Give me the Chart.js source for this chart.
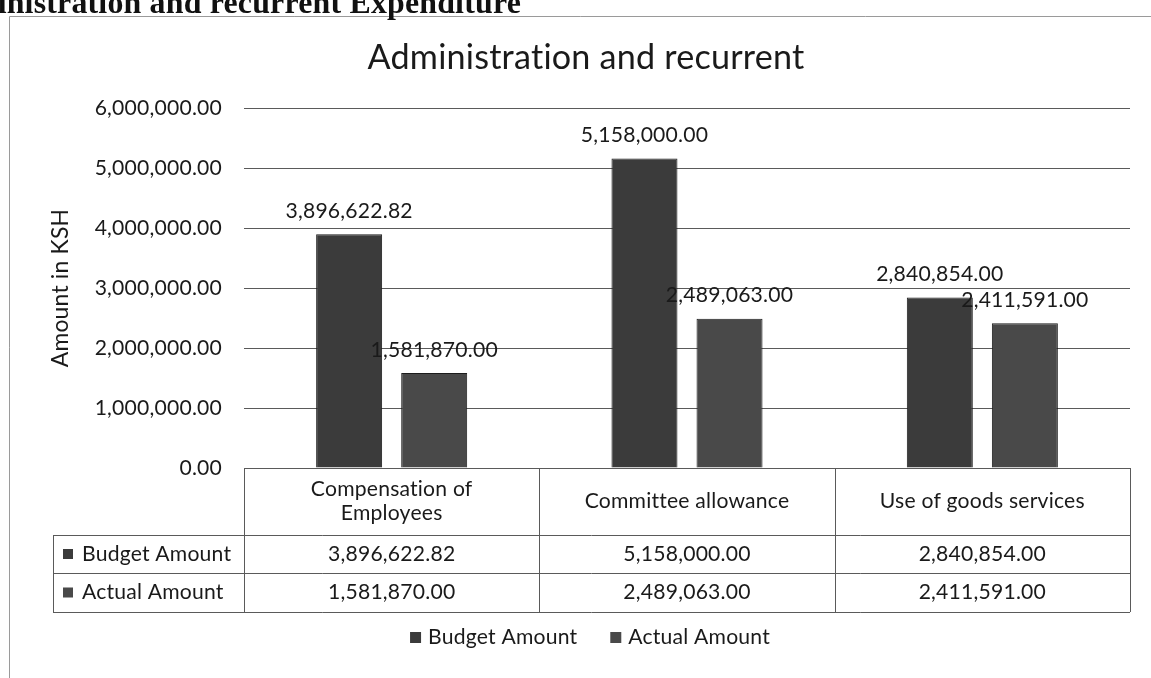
<!DOCTYPE html>
<html>
<head>
<meta charset="utf-8">
<title>Administration and recurrent</title>
<script src="https://cdn.jsdelivr.net/npm/chart.js@4.4.1/dist/chart.umd.min.js"></script>
<style>
  html, body { margin: 0; padding: 0; background: #fff; overflow: hidden; }
  #wrap { position: relative; width: 1151px; height: 678px; }
</style>
</head>
<body>
<div id="wrap"><canvas id="adminChart" width="1151" height="678"></canvas></div>
<script>
// data
var categories = ['Compensation of Employees', 'Committee allowance', 'Use of goods services'];
var budgetAmount = [3896622.82, 5158000.00, 2840854.00];
var actualAmount = [1581870.00, 2489063.00, 2411591.00];
var seriesNames = ['Budget Amount', 'Actual Amount'];
var yTicks = [0, 1000000, 2000000, 3000000, 4000000, 5000000, 6000000];

var FONT = 'Lato, "Open Sans", sans-serif';
var SERIF = '"Liberation Serif", "DejaVu Serif", serif';
var TEXT = '#1a1a1a';
var LINE = '#5a5a5a';
var barColors = ['#3b3b3b', '#494949'];

// size fonts so the texts get the widths they have in the picture
var mctx = document.createElement('canvas').getContext('2d');
function fitSize(text, width, family, weight) {
     mctx.font = (weight || 'normal') + ' 100px ' + family;
     return 100 * width / mctx.measureText(text).width;
}
var baseSize = fitSize('6,000,000.00', 125, FONT);
var titleSize = fitSize('Administration and recurrent', 432, FONT);
var axisTitleSize = fitSize('Amount in KSH', 156, FONT);
var headSize = fitSize('inistration and recurrent Expenditure', 516, SERIF, 'bold');

function fmt(v) {
     return v.toLocaleString('en-US', { minimumFractionDigits: 2, maximumFractionDigits: 2 });
}

function wrap(ctx, text, maxW) {
     var words = text.split(' '), lines = [], cur = '';
     words.forEach(function (w) {
          var t = cur ? cur + ' ' + w : w;
          if (cur && ctx.measureText(t).width > maxW) { lines.push(cur); cur = w; }
          else cur = t;
     });
     lines.push(cur);
     return lines;
}

var decor = {
     id: 'decor',
     beforeDraw: function (chart) {
          var ctx = chart.ctx;
          // a tiny letter spacing keeps Lato from joining "ti" / "tt"
          ctx.letterSpacing = '0.2px';
          ctx.save();
          ctx.fillStyle = '#fff';
          ctx.fillRect(0, 0, chart.width, chart.height);
          // chart frame
          ctx.strokeStyle = '#9a9a9a';
          ctx.lineWidth = 1;
          ctx.beginPath();
          ctx.moveTo(9.5, chart.height);
          ctx.lineTo(9.5, 16.5);
          ctx.lineTo(chart.width, 16.5);
          ctx.stroke();
          // page heading, cut by the scan
          ctx.fillStyle = '#111';
          ctx.font = 'bold ' + headSize + 'px ' + SERIF;
          ctx.textAlign = 'right';
          ctx.textBaseline = 'alphabetic';
          ctx.fillText('Administration and recurrent Expenditure', 521, 13);
          ctx.restore();
     }
};

var barLabels = {
     id: 'barLabels',
     afterDatasetsDraw: function (chart) {
          var ctx = chart.ctx;
          ctx.save();
          ctx.font = baseSize + 'px ' + FONT;
          ctx.fillStyle = TEXT;
          ctx.textAlign = 'center';
          ctx.textBaseline = 'middle';
          chart.data.datasets.forEach(function (ds, i) {
               chart.getDatasetMeta(i).data.forEach(function (bar, j) {
                    ctx.fillText(fmt(ds.data[j]), bar.x, bar.y - 23);
               });
          });
          ctx.restore();
     }
};

var dataTable = {
     id: 'dataTable',
     afterDraw: function (chart) {
          var ctx = chart.ctx;
          var area = chart.chartArea;
          var catW = (area.right - area.left) / categories.length;
          var top = area.bottom;
          var headBottom = top + 67;
          var row1 = headBottom + 38;
          var row2 = row1 + 39;
          var rowLeft = 53;
          var series = [budgetAmount, actualAmount];

          ctx.save();
          ctx.strokeStyle = LINE;
          ctx.lineWidth = 1;
          ctx.beginPath();
          [headBottom, row1, row2].forEach(function (y) {
               ctx.moveTo(rowLeft, Math.round(y) + 0.5);
               ctx.lineTo(area.right, Math.round(y) + 0.5);
          });
          for (var i = 0; i <= categories.length; i++) {
               var x = Math.round(area.left + i * catW) + 0.5;
               ctx.moveTo(x, top);
               ctx.lineTo(x, row2);
          }
          ctx.moveTo(rowLeft + 0.5, headBottom);
          ctx.lineTo(rowLeft + 0.5, row2);
          ctx.stroke();

          ctx.font = baseSize + 'px ' + FONT;
          ctx.fillStyle = TEXT;
          ctx.textBaseline = 'middle';
          ctx.textAlign = 'center';
          var lh = baseSize * 1.15;
          categories.forEach(function (c, i) {
               var cx = area.left + (i + 0.5) * catW;
               var lines = wrap(ctx, c, catW * 0.8);
               var y0 = (top + headBottom) / 2 - (lines.length - 1) * lh / 2;
               lines.forEach(function (l, k) { ctx.fillText(l, cx, y0 + k * lh); });
               series.forEach(function (s, r) {
                    var cy = r === 0 ? (headBottom + row1) / 2 : (row1 + row2) / 2;
                    ctx.fillText(fmt(s[i]), cx, cy);
               });
          });

          ctx.textAlign = 'left';
          seriesNames.forEach(function (name, r) {
               var cy = r === 0 ? (headBottom + row1) / 2 : (row1 + row2) / 2;
               ctx.fillStyle = barColors[r];
               ctx.fillRect(63, cy - 5, 10, 10);
               ctx.fillStyle = TEXT;
               ctx.fillText(name, 82, cy);
          });

          // legend under the table
          var gap = 7, box = 11, spacing = 33;
          var widths = seriesNames.map(function (n) { return box + gap + ctx.measureText(n).width; });
          var total = widths[0] + spacing + widths[1];
          var lx = 590 - total / 2, ly = 637;
          seriesNames.forEach(function (name, r) {
               ctx.fillStyle = barColors[r];
               ctx.fillRect(lx, ly - 5, box, box);
               ctx.fillStyle = TEXT;
               ctx.fillText(name, lx + box + gap, ly);
               lx += widths[r] + spacing;
          });
          ctx.restore();
     }
};

Chart.defaults.font.family = FONT;
Chart.defaults.font.size = baseSize;
Chart.defaults.color = TEXT;

var ctxB = document.getElementById('adminChart').getContext('2d');
var titleLH = titleSize * 1.2;
var axisLH = axisTitleSize * 1.2;
var adminChart = new Chart(ctxB, {
     type: 'bar',
     data: {
          labels: categories,
          datasets: [{
               label: seriesNames[0],
               data: budgetAmount,
               backgroundColor: barColors[0],
               borderColor: '#1c1c1c',
               borderWidth: 1,
               categoryPercentage: 0.576,
               barPercentage: 0.776
          }, {
               label: seriesNames[1],
               data: actualAmount,
               backgroundColor: barColors[1],
               borderColor: '#1c1c1c',
               borderWidth: 1,
               categoryPercentage: 0.576,
               barPercentage: 0.776
          }]
     },
     options: {
          responsive: false,
          animation: false,
          layout: { padding: { left: 21, right: 0, top: 0, bottom: 210 } },
          scales: {
               x: { display: false },
               y: {
                    min: yTicks[0],
                    max: yTicks[yTicks.length - 1],
                    afterBuildTicks: function (s) { s.ticks = yTicks.map(function (v) { return { value: v }; }); },
                    afterFit: function (s) { s.width = 223; },
                    border: { display: false },
                    grid: { color: LINE, lineWidth: 1, drawTicks: false },
                    ticks: { padding: 22, color: TEXT, callback: function (v) { return fmt(v); } },
                    title: {
                         display: true,
                         text: 'Amount in KSH',
                         color: TEXT,
                         font: { size: axisTitleSize },
                         padding: { top: 40 - axisLH / 2, bottom: 0 }
                    }
               },
               // empty strip on the right so the plot ends where the picture's does
               yRight: {
                    type: 'linear',
                    position: 'right',
                    grid: { display: false, drawTicks: false },
                    border: { display: false },
                    ticks: { display: false },
                    afterFit: function (s) { s.width = 21; }
               }
          },
          plugins: {
               legend: { display: false },
               tooltip: { enabled: false },
               title: {
                    display: true,
                    text: 'Administration and recurrent',
                    color: TEXT,
                    font: { size: titleSize, weight: 'normal' },
                    padding: { top: 58 - titleLH / 2, bottom: 108 - 58 - titleLH / 2 }
               }
          }
     },
     plugins: [decor, barLabels, dataTable]
});
</script>
</body>
</html>
